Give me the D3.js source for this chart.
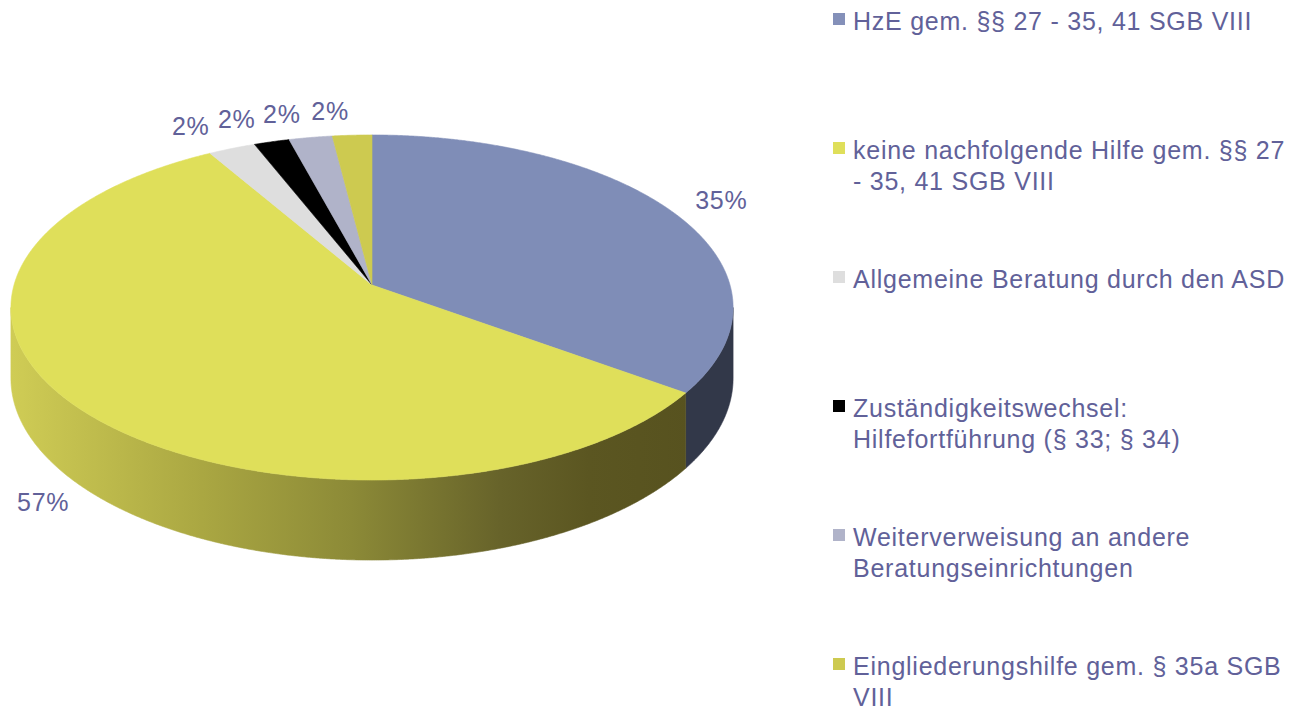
<!DOCTYPE html>
<html>
<head>
<meta charset="utf-8">
<script src="https://cdn.jsdelivr.net/npm/d3@7/dist/d3.min.js"></script>
<style>
  html, body { margin: 0; padding: 0; background: #ffffff; }
  svg { display: block; }
  text { font-family: "Liberation Sans", Arial, sans-serif; }
</style>
</head>
<body>
<svg id="chart" width="1292" height="708"></svg>
<script>
// ---- data ----
const categories = [
  "HzE gem. §§ 27 - 35, 41 SGB VIII",
  "keine nachfolgende Hilfe gem. §§ 27 - 35, 41 SGB VIII",
  "Allgemeine Beratung durch den ASD",
  "Zuständigkeitswechsel: Hilfefortführung (§ 33; § 34)",
  "Weiterverweisung an andere Beratungseinrichtungen",
  "Eingliederungshilfe gem. § 35a SGB VIII"
];
const values = [35.0, 56.6, 2.4, 1.8, 2.2, 2.0];

// ---- styles ----
const topColors = ["#7f8db7", "#dfdf5a", "#dedede", "#000000", "#b0b3c9", "#cdca50"];
const legendColors = ["#8490b9", "#dfdf5a", "#dedede", "#000000", "#b0b3c9", "#cdca50"];
const sideColors = ["#323849", "url(#yellowSide)", "#a8a8a8", "#000000", "#7d8096", "#8f8c36"];
const textColor = "#616199";

const svg = d3.select("#chart");
svg.append("rect").attr("width", 1292).attr("height", 708).attr("fill", "#ffffff");

// gradient for the yellow wall
const defs = svg.append("defs");
const grad = defs.append("linearGradient").attr("id", "yellowSide")
  .attr("gradientUnits", "userSpaceOnUse").attr("x1", 12).attr("y1", 0).attr("x2", 690).attr("y2", 0);
[[0, "#cfcc55"], [0.28, "#aaa742"], [0.5, "#8c8a37"], [0.72, "#67632a"], [0.85, "#5b5621"], [1, "#57521f"]]
  .forEach(([o, c]) => grad.append("stop").attr("offset", o).attr("stop-color", c));

// ---- 3D perspective projection of the pie ----
const cx = 372, cy = 285, B = 358, A = 169.6, D = 69.6, k = 0.1304;
function proj(theta, r, h) {
  const u = r * Math.sin(theta), v = -r * Math.cos(theta);
  const den = 1 - k * v;
  return [cx + B * u / den, cy + (A * v + h * D) / den];
}
function rim(a0, a1, h) {
  const step = Math.PI / 720;
  const pts = d3.range(a0, a1, step).concat([a1]);
  return pts.map(t => proj(t, 1, h));
}

const arcs = d3.pie().sort(null).value(d => d).startAngle(0).endAngle(2 * Math.PI)(values);
const line = d3.line();

// visible wall range (front side between silhouette points)
const visA = Math.acos(-k), visB = 2 * Math.PI - Math.acos(-k);

const gWalls = svg.append("g");
arcs.forEach((a, i) => {
  const s = Math.max(a.startAngle, visA), e = Math.min(a.endAngle, visB);
  if (e <= s) return;
  const pts = rim(s, e, 0).concat(rim(s, e, 1).reverse());
  gWalls.append("path").attr("d", line(pts) + "Z")
    .attr("fill", sideColors[i]).attr("stroke", sideColors[i]).attr("stroke-width", 0.6);
});

const gTop = svg.append("g");
arcs.forEach((a, i) => {
  const pts = [proj(0, 0, 0)].concat(rim(a.startAngle, a.endAngle, 0));
  gTop.append("path").attr("d", line(pts) + "Z")
    .attr("fill", topColors[i]).attr("stroke", topColors[i]).attr("stroke-width", 0.6)
    .attr("stroke-linejoin", "round");
});

// ---- data labels ----
const total = d3.sum(values);
const gLab = svg.append("g");
const labels = arcs.map((a, i) => {
  const m = (a.startAngle + a.endAngle) / 2;
  const p = proj(m, 1, 0);
  const front = m > visA && m < visB;
  const v = -Math.cos(m);
  const depth = front ? D / (1 - k * v) : 0;
  const f = front ? 1.13 : 1.16;
  let x = cx + f * (p[0] - cx);
  const y = cy + f * (p[1] - cy) + depth;
  const t = gLab.append("text").attr("y", y).attr("dy", "0.35em")
    .attr("text-anchor", "middle").attr("font-size", 25).attr("letter-spacing", "0.75px")
    .attr("fill", textColor).text(Math.round(values[i] / total * 100) + "%");
  const w = t.node().getComputedTextLength();
  // labels on the upper-left rim hang to the left of their anchor point
  if (!front && Math.sin(m) < 0 && y < cy) x -= w / 2;
  t.attr("x", x);
  return { t, x, y, w };
});
// simple collision pass for the crowded labels on the top rim
const topLabs = labels.filter(l => l.y < cy).sort((a, b) => b.x - a.x);
for (let i = 1; i < topLabs.length; i++) {
  const prev = topLabs[i - 1], cur = topLabs[i];
  const minX = prev.x - (prev.w / 2 + cur.w / 2 + 2);
  if (cur.x > minX) { cur.x = minX; cur.t.attr("x", cur.x); }
}

// ---- legend ----
const legX = 833, legTextX = 853, legY0 = 30, legStep = 129, lineH = 30.5, maxW = 441;
const gLeg = svg.append("g");
categories.forEach((c, i) => {
  const by = legY0 + i * legStep;
  gLeg.append("rect").attr("x", legX).attr("y", by - 17).attr("width", 12).attr("height", 12)
    .attr("fill", legendColors[i]);
  const t = gLeg.append("text").attr("x", legTextX).attr("y", by)
    .attr("font-size", 25).attr("letter-spacing", "0.75px").attr("fill", textColor);
  const words = c.split(" ");
  let lineNo = 0, cur = [];
  let ts = t.append("tspan").attr("x", legTextX).attr("y", by);
  words.forEach(w => {
    cur.push(w);
    ts.text(cur.join(" "));
    if (ts.node().getComputedTextLength() > maxW && cur.length > 1) {
      cur.pop();
      ts.text(cur.join(" "));
      cur = [w];
      lineNo++;
      ts = t.append("tspan").attr("x", legTextX).attr("y", by + lineNo * lineH).text(w);
    }
  });
});
</script>
</body>
</html>
